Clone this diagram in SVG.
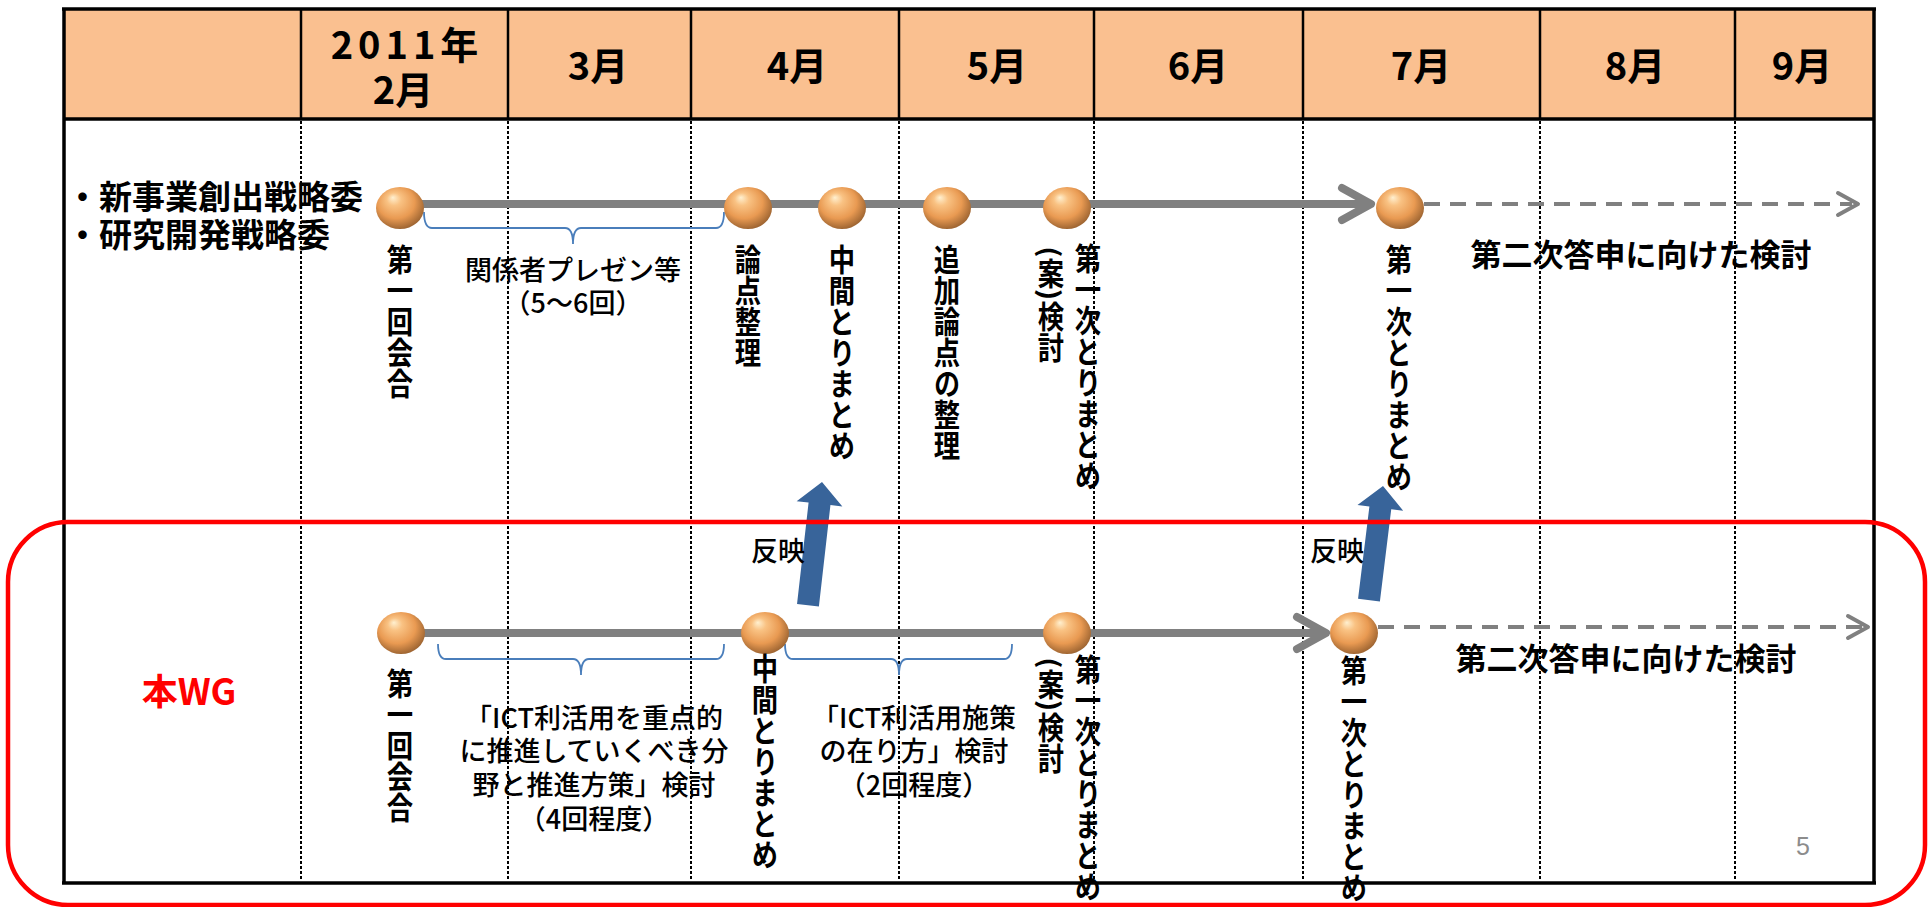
<svg xmlns="http://www.w3.org/2000/svg" width="1928" height="907" viewBox="0 0 1928 907">
<defs>
<radialGradient id="ball" cx="0.45" cy="0.42" r="0.6" fx="0.35" fy="0.25">
<stop offset="0" stop-color="#FFF0D0"/>
<stop offset="0.25" stop-color="#F9C283"/>
<stop offset="0.65" stop-color="#E99A52"/>
<stop offset="1" stop-color="#9A6230"/>
</radialGradient>
<style>
.hdr{font-family:"Noto Sans CJK JP","Liberation Sans",sans-serif;font-weight:bold;font-size:38px;fill:#000;text-anchor:middle}
.vt{font-family:"Noto Sans CJK JP",sans-serif;font-weight:bold;font-size:31px;fill:#000;writing-mode:vertical-rl}
.ht{font-family:"Noto Sans CJK JP",sans-serif;font-weight:500;font-size:27px;fill:#000;text-anchor:middle}
.hb{font-family:"Noto Sans CJK JP",sans-serif;font-weight:bold;font-size:31px;fill:#000;text-anchor:middle}
.lab{font-family:"Noto Sans CJK JP",sans-serif;font-weight:bold;font-size:33px;fill:#000}
.grid{stroke:#000;stroke-width:3.5;fill:none}
.hcol{stroke:#000;stroke-width:2.5}
.dot{stroke:#000;stroke-width:2;stroke-dasharray:3 2}
.brace{stroke:#4A7EBB;stroke-width:1.8;fill:none}
.tl{stroke:#808080;stroke-width:8;fill:none;stroke-linecap:round;stroke-linejoin:round}
.tld{stroke:#808080;stroke-width:4;fill:none;stroke-dasharray:16 10}
.chev{stroke:#808080;stroke-width:4;fill:none;stroke-linecap:round;stroke-linejoin:round}
.ball{fill:url(#ball)}
.blue{fill:#38649A}
</style>
</defs>

<g id="table">
<rect x="64" y="9" width="1810" height="110" fill="#FAC090"/>
<line class="hcol" x1="301" y1="9" x2="301" y2="119"/>
<line class="hcol" x1="508" y1="9" x2="508" y2="119"/>
<line class="hcol" x1="691" y1="9" x2="691" y2="119"/>
<line class="hcol" x1="899" y1="9" x2="899" y2="119"/>
<line class="hcol" x1="1094" y1="9" x2="1094" y2="119"/>
<line class="hcol" x1="1303" y1="9" x2="1303" y2="119"/>
<line class="hcol" x1="1540" y1="9" x2="1540" y2="119"/>
<line class="hcol" x1="1735" y1="9" x2="1735" y2="119"/>
<line class="dot" x1="301" y1="121" x2="301" y2="881"/>
<line class="dot" x1="508" y1="121" x2="508" y2="881"/>
<line class="dot" x1="691" y1="121" x2="691" y2="881"/>
<line class="dot" x1="899" y1="121" x2="899" y2="881"/>
<line class="dot" x1="1094" y1="121" x2="1094" y2="881"/>
<line class="dot" x1="1303" y1="121" x2="1303" y2="881"/>
<line class="dot" x1="1540" y1="121" x2="1540" y2="881"/>
<line class="dot" x1="1735" y1="121" x2="1735" y2="881"/>
<line class="grid" x1="62" y1="9" x2="1876" y2="9"/>
<line class="grid" x1="64" y1="119" x2="1874" y2="119" stroke-width="4.5"/>
<line class="grid" x1="64" y1="9" x2="64" y2="883"/>
<line class="grid" x1="1874" y1="9" x2="1874" y2="883"/>
<line class="grid" x1="62" y1="883" x2="1876" y2="883"/>
<text class="hdr" x="407" y="59" letter-spacing="5">2011年</text>
<text class="hdr" x="403" y="104">2月</text>
<text class="hdr" x="598" y="80">3月</text>
<text class="hdr" x="797" y="80">4月</text>
<text class="hdr" x="997" y="80">5月</text>
<text class="hdr" x="1198" y="80">6月</text>
<text class="hdr" x="1421" y="80">7月</text>
<text class="hdr" x="1635" y="80">8月</text>
<text class="hdr" x="1802" y="80">9月</text>
</g>

<g id="labels">
<text class="lab" x="66" y="209">・新事業創出戦略委</text>
<text class="lab" x="66" y="247">・研究開発戦略委</text>
<text x="189" y="705" font-family="Noto Sans CJK JP,sans-serif" font-weight="bold" font-size="36" fill="#FF0000" text-anchor="middle">本WG</text>
</g>

<g id="connectors">
<line class="tl" x1="400" y1="204" x2="1368" y2="204"/>
<polyline class="tl" points="1342,188 1371,204 1342,220"/>
<line class="tld" x1="1424" y1="204" x2="1852" y2="204"/>
<polyline class="chev" points="1838,193 1858,204 1838,215"/>
<line class="tl" x1="400" y1="633" x2="1322" y2="633"/>
<polyline class="tl" points="1297,617 1326,633 1297,649"/>
<line class="tld" x1="1378" y1="627" x2="1862" y2="627"/>
<polyline class="chev" points="1848,616 1868,627 1848,638"/>
<path class="brace" d="M424,212 Q424,228 432,228 L565,228 Q573,228 573,244 Q573,228 581,228 L716,228 Q724,228 724,212"/>
<path class="brace" d="M438,644 Q438,659 446,659 L573,659 Q581,659 581,675 Q581,659 589,659 L716,659 Q724,659 724,644"/>
<path class="brace" d="M785,644 Q785,659 793,659 L891,659 Q899,659 899,675 Q899,659 907,659 L1004,659 Q1012,659 1012,644"/>
<polygon class="blue" points="0,0 23,22 11,22 11,124 -11,124 -11,22 -23,22" transform="translate(822,482) rotate(6.5)"/>
<polygon class="blue" points="0,0 23,22 11,22 11,115 -11,115 -11,22 -23,22" transform="translate(1383,486) rotate(7)"/>
</g>

<g id="upper-nodes">
<g id="u1"><ellipse class="ball" cx="400" cy="208" rx="24" ry="21"/><text class="vt" x="0" y="244" transform="translate(400 0) scale(0.85 1)">第一回会合</text></g>
<g id="u-pres"><text class="ht" x="573" y="280">関係者プレゼン等</text><text class="ht" x="573" y="313">（5～6回）</text></g>
<g id="u2"><ellipse class="ball" cx="748" cy="208" rx="24" ry="21"/><text class="vt" x="0" y="244" transform="translate(748 0) scale(0.85 1)">論点整理</text></g>
<g id="u3"><ellipse class="ball" cx="842" cy="208" rx="24" ry="21"/><text class="vt" x="0" y="244" transform="translate(842 0) scale(0.85 1)">中間とりまとめ</text></g>
<g id="u4"><ellipse class="ball" cx="947" cy="208" rx="24" ry="21"/><text class="vt" x="0" y="244" transform="translate(947 0) scale(0.85 1)">追加論点の整理</text></g>
<g id="u5"><ellipse class="ball" cx="1067" cy="208" rx="24" ry="21"/><text class="vt" x="0" y="246" transform="translate(1051 0) scale(0.85 1)">(案)検討</text><text class="vt" x="0" y="243" transform="translate(1088 0) scale(0.85 1)">第一次とりまとめ</text></g>
<g id="u6"><ellipse class="ball" cx="1400" cy="208" rx="24" ry="21"/><text class="vt" x="0" y="244" transform="translate(1399 0) scale(0.85 1)">第一次とりまとめ</text></g>
<g id="u7"><text class="hb" x="1641" y="266">第二次答申に向けた検討</text></g>
</g>

<g id="lower-nodes">
<g id="l1"><ellipse class="ball" cx="401" cy="633" rx="24" ry="21"/><text class="vt" x="0" y="668" transform="translate(400 0) scale(0.85 1)">第一回会合</text></g>
<g id="l-ict1"><text class="ht" x="594" y="728">「ICT利活用を重点的</text><text class="ht" x="594" y="761">に推進していくべき分</text><text class="ht" x="594" y="795">野と推進方策」検討</text><text class="ht" x="594" y="829">（4回程度）</text></g>
<g id="l2"><ellipse class="ball" cx="765" cy="633" rx="24" ry="21"/><text class="vt" x="0" y="653" transform="translate(765 0) scale(0.85 1)">中間とりまとめ</text></g>
<g id="l-ict2"><text class="ht" x="914" y="728">「ICT利活用施策</text><text class="ht" x="914" y="761">の在り方」検討</text><text class="ht" x="914" y="795">（2回程度）</text></g>
<g id="l3"><ellipse class="ball" cx="1067" cy="633" rx="24" ry="21"/><text class="vt" x="0" y="657" transform="translate(1051 0) scale(0.85 1)">(案)検討</text><text class="vt" x="0" y="654" transform="translate(1088 0) scale(0.85 1)">第一次とりまとめ</text></g>
<g id="l4"><ellipse class="ball" cx="1354" cy="633" rx="24" ry="21"/><text class="vt" x="0" y="655" transform="translate(1354 0) scale(0.85 1)">第一次とりまとめ</text></g>
<g id="l5"><text class="hb" x="1626" y="670">第二次答申に向けた検討</text></g>
<text class="ht" x="778" y="561">反映</text>
<text class="ht" x="1337" y="561">反映</text>
</g>

<rect id="wg-frame" x="8" y="522" width="1917" height="383" rx="60" ry="60" fill="none" stroke="#FF0000" stroke-width="4.5"/>
<text x="1803" y="855" font-family="Liberation Sans,sans-serif" font-size="25" fill="#8C8C8C" text-anchor="middle">5</text>
</svg>
